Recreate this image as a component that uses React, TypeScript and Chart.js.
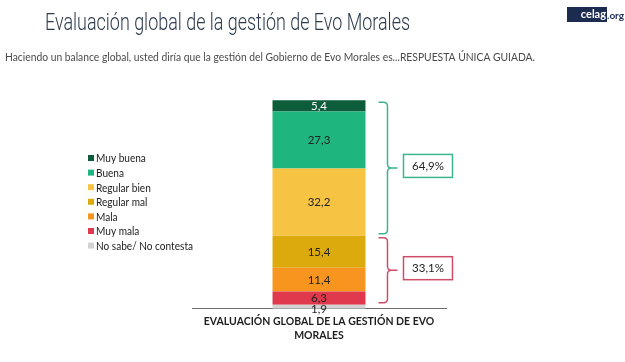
import React, { useEffect, useRef } from 'react';
import { Chart, registerables } from 'chart.js';

Chart.register(...registerables);

const titleText = 'Evaluación global de la gestión de Evo Morales';
const subtitleText = 'Haciendo un balance global, usted diría que la gestión del Gobierno de Evo Morales es...RESPUESTA ÚNICA GUIADA.';
const categoryLines = ['EVALUACIÓN GLOBAL DE LA GESTIÓN DE EVO', 'MORALES'];
const seriesLabels = ['Muy buena', 'Buena', 'Regular bien', 'Regular mal', 'Mala', 'Muy mala', 'No sabe/ No contesta'];
const seriesValues = [5.4, 27.3, 32.2, 15.4, 11.4, 6.3, 1.9];
const valueLabels = ['5,4', '27,3', '32,2', '15,4', '11,4', '6,3', '1,9'];
const seriesColors = ['#0d5c3a', '#1fb57f', '#f6c343', '#dcaa0c', '#f8951f', '#e0384c', '#d3d3d3'];
const valueLabelColors = ['#ffffff', '#222222', '#222222', '#222222', '#222222', '#222222', '#222222'];
const groupNames = ['64,9%', '33,1%'];
const groupFirst = [0, 3];
const groupLast = [2, 5];
const groupColors = ['#3db58b', '#cf4d68'];

const FONT = 'Lato, "Open Sans", sans-serif';

function drawScaled(ctx: CanvasRenderingContext2D, text: string, x: number, y: number, sx: number) {
  ctx.save();
  ctx.translate(x, y);
  ctx.scale(sx, 1);
  ctx.fillText(text, 0, 0);
  ctx.restore();
}

export default function App() {
  const ref = useRef<HTMLCanvasElement | null>(null);

  useEffect(() => {
    if (!ref.current) return;
    const order = seriesLabels.map((_, i) => i).reverse();
    const datasets = order.map((i) => ({
      label: seriesLabels[i],
      data: [seriesValues[i]],
      backgroundColor: seriesColors[i],
      borderWidth: 0,
      categoryPercentage: 1,
      barPercentage: 0.366,
      srcIndex: i,
    }));

    const cumTop = (idx: number) => {
      let s = 0;
      for (let k = seriesValues.length - 1; k >= idx; k--) s += seriesValues[k];
      return s;
    };
    const cumBottom = (idx: number) => cumTop(idx) - seriesValues[idx];

    const decor = {
      id: 'decor',
      afterDraw(chart: any) {
        const ctx = chart.ctx as CanvasRenderingContext2D;
        const y = chart.scales.y;
        ctx.save();

        // Title
        ctx.fillStyle = '#2c3a4b';
        ctx.textBaseline = 'alphabetic';
        ctx.textAlign = 'left';
        ctx.font = `300 23px Roboto, sans-serif`;
        let w = ctx.measureText(titleText).width;
        drawScaled(ctx, titleText, 45, 30, 365 / w);

        // Subtitle
        ctx.fillStyle = '#4a4a4a';
        ctx.font = `11px ${FONT}`;
        ctx.textBaseline = 'middle';
        w = ctx.measureText(subtitleText).width;
        drawScaled(ctx, subtitleText, 5, 57, 530 / w);

        // Logo
        ctx.fillStyle = '#1c2b50';
        ctx.fillRect(567, 7, 40, 15);
        ctx.font = `bold 11px ${FONT}`;
        ctx.fillStyle = '#ffffff';
        ctx.textAlign = 'right';
        ctx.fillText('celag', 606, 14.5);
        ctx.fillStyle = '#1c2b50';
        ctx.textAlign = 'left';
        ctx.font = `bold 10px ${FONT}`;
        ctx.fillText('.org', 607, 15.5);

        // Legend
        ctx.font = `12px ${FONT}`;
        ctx.textAlign = 'left';
        ctx.textBaseline = 'middle';
        const legScale = 97 / ctx.measureText(seriesLabels[6]).width;
        seriesLabels.forEach((lab, i) => {
          const cy = 158 + i * 14.6;
          ctx.fillStyle = seriesColors[i];
          ctx.fillRect(88, cy - 3, 6, 6);
          ctx.fillStyle = '#1a1a1a';
          drawScaled(ctx, lab, 96, cy + 0.5, legScale);
        });

        // Brackets
        const meta = chart.getDatasetMeta(0);
        const bar = meta.data[0];
        const barRight = bar.x + bar.width / 2;
        const xv = barRight + 22;
        const x0 = xv - 9;
        const r = 4;
        groupNames.forEach((name, g) => {
          const top = y.getPixelForValue(cumTop(groupFirst[g])) + 2;
          const bottom = y.getPixelForValue(cumBottom(groupLast[g])) - 2;
          const mid = (top + bottom) / 2;
          ctx.strokeStyle = groupColors[g];
          ctx.lineWidth = 1.5;
          ctx.beginPath();
          ctx.moveTo(x0, top);
          ctx.lineTo(xv - r, top);
          ctx.quadraticCurveTo(xv, top, xv, top + r);
          ctx.lineTo(xv, mid - r);
          ctx.quadraticCurveTo(xv, mid, xv + r, mid);
          ctx.lineTo(xv + 10, mid);
          ctx.moveTo(xv + r, mid);
          ctx.quadraticCurveTo(xv, mid, xv, mid + r);
          ctx.lineTo(xv, bottom - r);
          ctx.quadraticCurveTo(xv, bottom, xv - r, bottom);
          ctx.lineTo(x0, bottom);
          ctx.stroke();
          const bx = xv + 16;
          const bw = 49;
          const bh = 23;
          const by = mid - bh / 2 - 2;
          ctx.fillStyle = '#fff';
          ctx.fillRect(bx, by, bw, bh);
          ctx.strokeRect(bx, by, bw, bh);
          ctx.fillStyle = '#222';
          ctx.font = `11.5px ${FONT}`;
          ctx.textAlign = 'center';
          ctx.textBaseline = 'middle';
          ctx.fillText(name, bx + bw / 2, by + bh / 2 + 0.5);
        });
        ctx.restore();
      },
      afterDatasetsDraw(chart: any) {
        const ctx = chart.ctx as CanvasRenderingContext2D;
        ctx.save();
        ctx.font = `11.5px ${FONT}`;
        ctx.textAlign = 'center';
        ctx.textBaseline = 'middle';
        chart.data.datasets.forEach((ds: any, di: number) => {
          const el = chart.getDatasetMeta(di).data[0];
          const i = ds.srcIndex;
          const cy = (el.y + el.base) / 2 + (seriesValues[i] < 3 ? 3 : 0.5);
          ctx.fillStyle = valueLabelColors[i];
          ctx.fillText(valueLabels[i], el.x, cy);
        });
        ctx.restore();
      },
    };

    const chart = new Chart(ref.current, {
      type: 'bar',
      data: {
        labels: [categoryLines],
        datasets: datasets as any,
      },
      options: {
        animation: false,
        responsive: false,
        maintainAspectRatio: false,
        layout: { padding: { left: 192, right: 179, top: 100, bottom: 14 } },
        plugins: {
          legend: { display: false },
          tooltip: { enabled: false },
        },
        scales: {
          x: {
            stacked: true,
            grid: { display: false, drawTicks: false },
            border: { display: true, color: '#6f6f6f', width: 1 },
            ticks: {
              maxRotation: 0,
              autoSkip: false,
              padding: 6,
              color: '#1e1e1e',
              font: { family: FONT, size: 10.5, weight: 'bold', lineHeight: 1.3 },
            },
          },
          y: {
            stacked: true,
            display: false,
            min: 0,
            max: 100,
          },
        },
      },
      plugins: [decor],
    });
    return () => chart.destroy();
  }, []);

  return (
    <div style={{ position: 'fixed', left: 0, top: 0, width: 625, height: 362, background: '#fff' }}>
      <canvas ref={ref} width={625} height={362} style={{ width: 625, height: 362 }} />
    </div>
  );
}
